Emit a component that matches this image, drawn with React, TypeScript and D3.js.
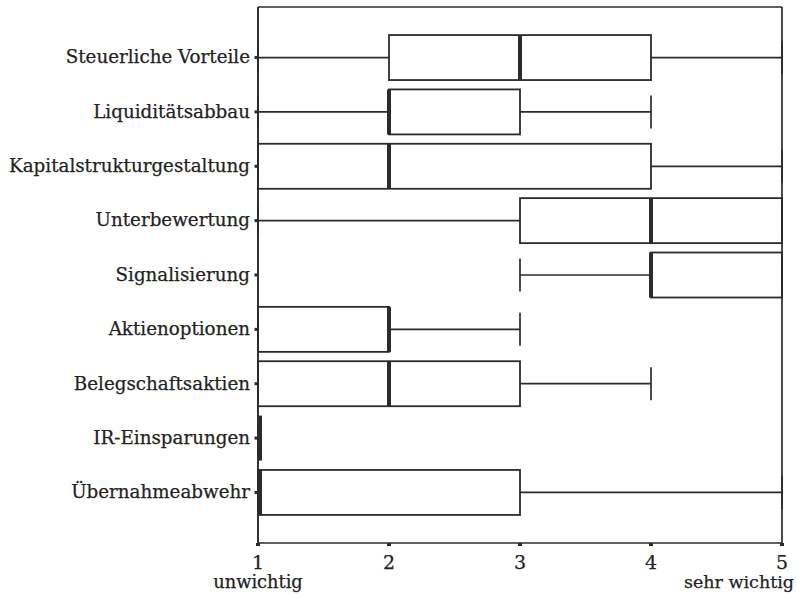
import React from "react";
import * as d3 from "d3";

const categories = [
  "Steuerliche Vorteile",
  "Liquiditätsabbau",
  "Kapitalstrukturgestaltung",
  "Unterbewertung",
  "Signalisierung",
  "Aktienoptionen",
  "Belegschaftsaktien",
  "IR-Einsparungen",
  "Übernahmeabwehr",
];
const whiskerLow = [1, 1, 1, 1, 3, 1, 1, 1, 1];
const quartile1 = [2, 2, 1, 3, 4, 1, 1, 1, 1];
const medians = [3, 2, 2, 4, 4, 2, 2, 1, 1];
const quartile3 = [4, 3, 4, 5, 5, 2, 3, 1, 3];
const whiskerHigh = [5, 4, 5, 5, 5, 3, 4, 1, 5];
const xTicks = [1, 2, 3, 4, 5];
const xEndLabels = ["unwichtig", "sehr wichtig"];

const W = 796;
const H = 595;
const left = 258;
const right = 782;
const top = 7;
const bottom = 543;
const ink = "#2b2b2b";
const font = "'DejaVu Serif', serif";

export default function App() {
  const x = d3.scaleLinear().domain([1, 5]).range([left, right]);
  const y = d3.scalePoint<string>().domain(categories).range([top, bottom]).padding(0.93);
  const boxH = 22.5;
  const capH = 16.5;

  return (
    <svg width={W} height={H} style={{ position: "absolute", left: 0, top: 0, background: "#fff" }}>
      <rect x={0} y={0} width={W} height={H} fill="#fff" />
      {/* frame */}
      <line x1={left} x2={right} y1={top} y2={top} stroke={ink} strokeWidth={1.7} />
      <line x1={right} x2={right} y1={top} y2={bottom} stroke={ink} strokeWidth={1.7} />
      <line x1={left} x2={left} y1={top} y2={bottom} stroke={ink} strokeWidth={1.9} />
      <line x1={left} x2={right} y1={bottom} y2={bottom} stroke={ink} strokeWidth={1.7} />

      {categories.map((c, i) => {
        const cy = y(c) as number;
        return (
          <g key={c}>
            <text
              x={left - 8}
              y={cy}
              dy="0.32em"
              textAnchor="end"
              fontFamily={font}
              fontSize={18.3}
              fill="#222"
              stroke="#222"
              strokeWidth={0.25}
            >
              {c}
            </text>
            <rect x={left - 3.5} y={cy - 1.5} width={3} height={3} fill={ink} />
            {/* whiskers */}
            <line x1={x(whiskerLow[i])} x2={x(quartile1[i])} y1={cy} y2={cy} stroke={ink} strokeWidth={1.7} />
            <line x1={x(quartile3[i])} x2={x(whiskerHigh[i])} y1={cy} y2={cy} stroke={ink} strokeWidth={1.7} />
            <line x1={x(whiskerLow[i])} x2={x(whiskerLow[i])} y1={cy - capH} y2={cy + capH} stroke={ink} strokeWidth={1.7} />
            <line x1={x(whiskerHigh[i])} x2={x(whiskerHigh[i])} y1={cy - capH} y2={cy + capH} stroke={ink} strokeWidth={1.7} />
            {/* box */}
            {quartile3[i] > quartile1[i] && (
              <rect
                x={x(quartile1[i])}
                y={cy - boxH}
                width={x(quartile3[i]) - x(quartile1[i])}
                height={boxH * 2}
                fill="none"
                stroke={ink}
                strokeWidth={1.8}
              />
            )}
            {/* median */}
            <line
              x1={x(medians[i]) + (medians[i] === 1 ? 2 : 0)}
              x2={x(medians[i]) + (medians[i] === 1 ? 2 : 0)}
              y1={cy - boxH}
              y2={cy + boxH}
              stroke={ink}
              strokeWidth={4}
            />
          </g>
        );
      })}

      {xTicks.map((t) => (
        <g key={t}>
          <rect x={x(t) - 2} y={bottom} width={4} height={3} fill={ink} />
          <text x={x(t)} y={569} textAnchor="middle" fontFamily={font} fontSize={19} fill="#222" stroke="#222" strokeWidth={0.25}>
            {t}
          </text>
        </g>
      ))}
      <text x={x(1)} y={588} textAnchor="middle" fontFamily={font} fontSize={17.8} fill="#222" stroke="#222" strokeWidth={0.25}>
        {xEndLabels[0]}
      </text>
      <text x={794} y={588} textAnchor="end" fontFamily={font} fontSize={17.5} fill="#222" stroke="#222" strokeWidth={0.25}>
        {xEndLabels[1]}
      </text>
    </svg>
  );
}
